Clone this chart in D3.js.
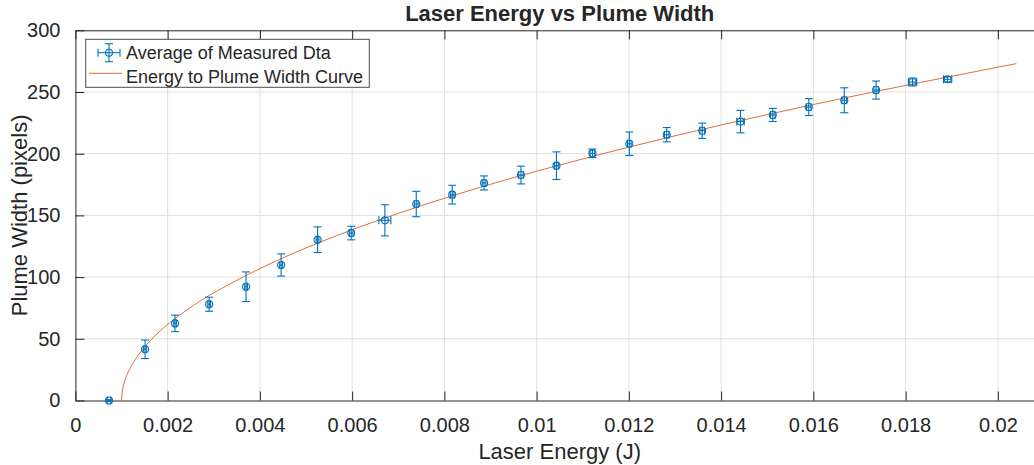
<!DOCTYPE html>
<html>
<head>
<meta charset="utf-8">
<script src="https://cdn.jsdelivr.net/npm/d3@7"></script>
<style>
  html, body { margin: 0; padding: 0; background: #fff; }
  svg { display: block; }
  text { font-family: "Liberation Sans", Arial, Helvetica, sans-serif; fill: #262626; }
</style>
</head>
<body>
<svg id="chart" width="1034" height="465"></svg>
<script>
// ---- data ----
const energy = [0.00073, 0.00151, 0.00216, 0.00290, 0.00370, 0.00446, 0.00525, 0.00598, 0.00671,
                0.00739, 0.00817, 0.00886, 0.00966, 0.01043, 0.01121, 0.01201, 0.01282, 0.01359,
                0.01442, 0.01512, 0.01590, 0.01667, 0.01736, 0.01815, 0.01891];
const width  = [0, 41.5, 62.5, 78, 92.2, 109.8, 130.3, 135.7, 146, 159.2, 166.8, 176.3, 182.7,
                190.3, 200.3, 208.1, 215.4, 218.6, 226, 231.4, 237.8, 243.3, 251.6, 258.1, 260.3];
const widthErr = [0.6, 7.5, 6.7, 5.7, 12, 9, 10.4, 5.5, 12.6, 10.3, 7.6, 5.7, 7.2, 11.2, 3.5,
                  9.5, 5.8, 6.2, 9.1, 5.3, 6.8, 10.1, 7.3, 3.2, 2.2];
const energyErr = [0.00004, 0.00003, 0.00003, 0.00003, 0.00003, 0.00003, 0.00003, 0.00004, 0.00013,
                   0.00004, 0.00004, 0.00004, 0.00005, 0.00004, 0.00005, 0.00004, 0.00005, 0.00005,
                   0.00008, 0.00005, 0.00005, 0.00005, 0.00005, 0.00009, 0.00009];
// fitted curve, sampled along the orange line
const curveX = [0.00100, 0.00101, 0.00103, 0.00106, 0.00110, 0.00120, 0.00140, 0.00170, 0.00200,
                0.00250, 0.00300, 0.00400, 0.00500, 0.00600, 0.00700, 0.00800, 0.00900, 0.01000,
                0.01200, 0.01400, 0.01600, 0.01800, 0.02040];
const curveY = [0, 6.2, 10.7, 15.2, 19.6, 27.7, 39.2, 51.9, 62, 75.9, 87.7, 107.4, 124, 138.6,
                151.8, 164, 175.3, 186, 205.6, 223.5, 240, 255.5, 273];
const xTicks = [0, 0.002, 0.004, 0.006, 0.008, 0.01, 0.012, 0.014, 0.016, 0.018, 0.02];
const xTickLabels = ["0", "0.002", "0.004", "0.006", "0.008", "0.01", "0.012", "0.014", "0.016", "0.018", "0.02"];
const yTicks = [0, 50, 100, 150, 200, 250, 300];
const titleText = "Laser Energy vs Plume Width";
const xLabel = "Laser Energy (J)";
const yLabel = "Plume Width (pixels)";
const legendLabels = ["Average of Measured Dta", "Energy to Plume Width Curve"];

// ---- layout ----
const L = 75.4, R = 1044, T = 30.3, B = 400.5;
const blue = "#0072BD", orange = "#D95319", axisCol = "#262626", gridCol = "#dfdfdf";

const svg = d3.select("#chart");
const x = d3.scaleLinear().domain([0, 0.021]).range([L, R]);
const y = d3.scaleLinear().domain([0, 300]).range([B, T]);

svg.append("defs").append("clipPath").attr("id", "clip")
  .append("rect").attr("x", L).attr("y", T - 10).attr("width", R - L).attr("height", B - T + 20);

// grid
const grid = svg.append("g");
grid.selectAll(".gx").data(xTicks.filter(d => d > 0)).join("line")
  .attr("x1", d => x(d)).attr("x2", d => x(d)).attr("y1", T).attr("y2", B)
  .attr("stroke", gridCol).attr("stroke-width", 1);
grid.selectAll(".gy").data(yTicks.filter(d => d > 0 && d < 300)).join("line")
  .attr("x1", L).attr("x2", R).attr("y1", d => y(d)).attr("y2", d => y(d))
  .attr("stroke", gridCol).attr("stroke-width", 1);

// axes (ticks inward)
const tk = 9;
const xAxisB = d3.axisBottom(x).tickValues(xTicks).tickFormat((d, i) => xTickLabels[i]).tickSizeInner(-tk).tickSizeOuter(0).tickPadding(tk + 8);
const gxB = svg.append("g").attr("transform", `translate(0,${B})`).call(xAxisB);
gxB.select(".domain").attr("stroke", axisCol);
gxB.selectAll(".tick line").attr("stroke", axisCol);
gxB.selectAll(".tick text").attr("font-size", 20).attr("fill", axisCol).style("font-family", "'Liberation Sans', Arial, sans-serif");

const xAxisT = d3.axisTop(x).tickValues(xTicks).tickFormat("").tickSizeInner(-tk).tickSizeOuter(0);
const gxT = svg.append("g").attr("transform", `translate(0,${T})`).call(xAxisT);
gxT.select(".domain").attr("stroke", axisCol);
gxT.selectAll(".tick line").attr("stroke", axisCol);

const yAxisL = d3.axisLeft(y).tickValues(yTicks).tickSizeInner(-tk).tickSizeOuter(0).tickPadding(tk + 6);
const gyL = svg.append("g").attr("transform", `translate(${L},0)`).call(yAxisL);
gyL.select(".domain").attr("stroke", axisCol);
gyL.selectAll(".tick line").attr("stroke", axisCol);
gyL.selectAll(".tick text").attr("font-size", 20).attr("fill", axisCol).style("font-family", "'Liberation Sans', Arial, sans-serif");

const yAxisR = d3.axisRight(y).tickValues(yTicks).tickFormat("").tickSizeInner(-tk).tickSizeOuter(0);
const gyR = svg.append("g").attr("transform", `translate(${R},0)`).call(yAxisR);
gyR.select(".domain").attr("stroke", axisCol);
gyR.selectAll(".tick line").attr("stroke", axisCol);

// fitted curve
const curveLine = d3.line().x((d, i) => x(curveX[i])).y((d, i) => y(curveY[i])).curve(d3.curveBasis);
svg.append("path").attr("d", curveLine(curveX))
  .attr("fill", "none").attr("stroke", orange).attr("stroke-opacity", 0.85).attr("stroke-width", 1).attr("clip-path", "url(#clip)");

// error bars
const pts = energy.map((e, i) => ({ x: e, y: width[i], ye: widthErr[i], xe: energyErr[i] }));
const cap = 4;
const eb = svg.append("g").attr("stroke", blue).attr("stroke-width", 1.1).attr("fill", "none");
pts.forEach(p => {
  const cx = x(p.x), cy = y(p.y);
  const yt = y(p.y + p.ye), yb = y(p.y - p.ye);
  const xl = x(p.x - p.xe), xr = x(p.x + p.xe);
  const g = eb.append("g");
  g.append("line").attr("x1", cx).attr("x2", cx).attr("y1", yt).attr("y2", yb);
  g.append("line").attr("x1", cx - cap).attr("x2", cx + cap).attr("y1", yt).attr("y2", yt);
  g.append("line").attr("x1", cx - cap).attr("x2", cx + cap).attr("y1", yb).attr("y2", yb);
  g.append("line").attr("x1", xl).attr("x2", xr).attr("y1", cy).attr("y2", cy);
  g.append("line").attr("x1", xl).attr("x2", xl).attr("y1", cy - cap).attr("y2", cy + cap);
  g.append("line").attr("x1", xr).attr("x2", xr).attr("y1", cy - cap).attr("y2", cy + cap);
  g.append("circle").attr("cx", cx).attr("cy", cy).attr("r", 3.5);
});

// title & labels
svg.append("text").attr("x", (L + R) / 2).attr("y", 21).attr("text-anchor", "middle")
  .attr("font-size", 22).attr("font-weight", "bold").attr("fill", "#000").text(titleText);
svg.append("text").attr("x", (L + R) / 2).attr("y", 459).attr("text-anchor", "middle")
  .attr("font-size", 22).text(xLabel);
svg.append("text").attr("transform", `translate(27,${(T + B) / 2}) rotate(-90)`).attr("text-anchor", "middle")
  .attr("font-size", 22).text(yLabel);

// legend
const lg = svg.append("g");
lg.append("rect").attr("x", 85.7).attr("y", 39.3).attr("width", 283.6).attr("height", 48)
  .attr("fill", "#fff").attr("stroke", "#4d4d4d").attr("stroke-width", 1);
const ix = 109, iy = 52.7;
const li = lg.append("g").attr("stroke", blue).attr("stroke-width", 1.1).attr("fill", "none");
li.append("line").attr("x1", ix).attr("x2", ix).attr("y1", iy - 9).attr("y2", iy + 9);
li.append("line").attr("x1", ix - 4).attr("x2", ix + 4).attr("y1", iy - 9).attr("y2", iy - 9);
li.append("line").attr("x1", ix - 4).attr("x2", ix + 4).attr("y1", iy + 9).attr("y2", iy + 9);
li.append("line").attr("x1", ix - 11).attr("x2", ix + 11).attr("y1", iy).attr("y2", iy);
li.append("line").attr("x1", ix - 11).attr("x2", ix - 11).attr("y1", iy - 4).attr("y2", iy + 4);
li.append("line").attr("x1", ix + 11).attr("x2", ix + 11).attr("y1", iy - 4).attr("y2", iy + 4);
li.append("circle").attr("cx", ix).attr("cy", iy).attr("r", 3.5);
lg.append("line").attr("x1", 89).attr("x2", 122.3).attr("y1", 73.3).attr("y2", 73.3)
  .attr("stroke", orange).attr("stroke-opacity", 0.85).attr("stroke-width", 1);
lg.append("text").attr("x", 126).attr("y", 59).attr("font-size", 18).attr("fill", "#000").text(legendLabels[0]);
lg.append("text").attr("x", 126).attr("y", 83).attr("font-size", 18).attr("fill", "#000").text(legendLabels[1]);
</script>
</body>
</html>
